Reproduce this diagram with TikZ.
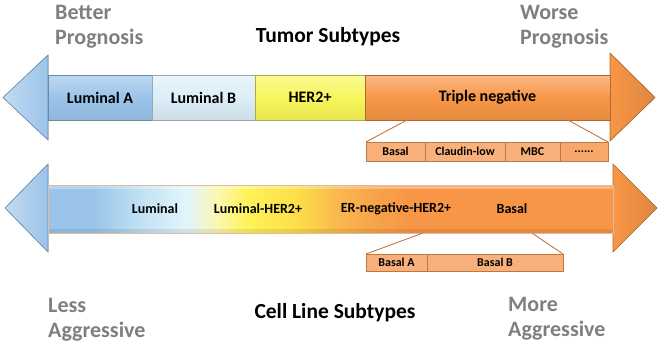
\documentclass[tikz,border=0pt]{standalone}
\usepackage{fontspec}
\setmainfont{Carlito}
\usepackage{xcolor}
\usetikzlibrary{positioning}

\definecolor{lumacol}{HTML}{9AC4EA}
\definecolor{lumbcol}{HTML}{DCEEF8}
\definecolor{hercol}{HTML}{F8F65A}
\definecolor{tnegcol}{HTML}{F79646}
\definecolor{subcol}{HTML}{F9B07A}
\definecolor{edgecol}{HTML}{C07840}
\definecolor{grytxt}{HTML}{7F7F7F}
\definecolor{lightblue}{HTML}{BFE0F3}
\definecolor{palecyan}{HTML}{E2F6FB}
\definecolor{paleyel}{HTML}{FBF7B0}
\definecolor{midyel}{HTML}{FFF35A}
\definecolor{deepyel}{HTML}{FCDE48}
\definecolor{orgyel}{HTML}{FAB94E}
\definecolor{orglt}{HTML}{F8A24A}

\pgfdeclarehorizontalshading{cellgrad}{100bp}{color(0bp)=(lumacol); color(25bp)=(lumacol);
  color(29bp)=(lumacol); color(33bp)=(lightblue); color(37.3bp)=(palecyan);
  color(40bp)=(paleyel); color(42.6bp)=(midyel); color(47bp)=(deepyel);
  color(50.5bp)=(orgyel); color(54bp)=(orglt); color(57bp)=(tnegcol); color(100bp)=(tnegcol)}

\tikzset{
  seg/.style={draw=#1!70!black, line width=0.6pt, minimum height=45pt, inner sep=0pt,
    outer sep=0pt, font=\fontsize{16}{18}\selectfont\bfseries,
    top color=#1!65!white, bottom color=#1!93!black, middle color=#1},
  subbox/.style={draw=edgecol, line width=0.6pt, fill=subcol, minimum height=19pt,
    inner sep=0pt, outer sep=0pt, font=\fontsize{12}{14}\selectfont\bfseries},
  cellbl/.style={font=\fontsize{14}{16}\selectfont\bfseries, inner sep=0pt},
  grylbl/.style={text=grytxt, align=left, anchor=north west, inner sep=0pt,
    font=\fontsize{22}{25}\selectfont\bfseries},
  ttl/.style={anchor=base, inner sep=0pt, font=\fontsize{21.5}{25}\selectfont\bfseries},
  link/.style={draw=edgecol, line width=0.9pt},
}

\begin{document}
\begin{tikzpicture}[x=1pt, y=-1pt]
  \useasboundingbox (0,0) rectangle (659,343);

  % tumor subtypes arrow
  \filldraw[left color=lumacol!60!white, right color=lumacol, draw=lumacol!70!black, line width=0.6pt] (48,55) -- (3,97.5) -- (48,140) -- cycle;
  \filldraw[left color=tnegcol, right color=tnegcol!90!black, draw=tnegcol!70!black, line width=0.6pt] (610,53) -- (655,97.5) -- (610,141) -- cycle;
  \node[seg=lumacol, minimum width=104pt, anchor=west] (luma) at (48,97.5) {Luminal A};
  \node[seg=lumbcol, minimum width=103pt, right=0pt of luma] (lumb) {Luminal B};
  \node[seg=hercol, minimum width=110pt, right=0pt of lumb] (her) {HER2+};
  \node[seg=tnegcol, minimum width=245pt, right=0pt of her] (tneg) {Triple negative};

  \node[subbox, minimum width=59pt, anchor=north west] (basal) at (366,142) {Basal};
  \node[subbox, minimum width=80pt, right=0pt of basal] (claudin) {Claudin-low};
  \node[subbox, minimum width=55pt, right=0pt of claudin] (mbc) {MBC};
  \node[subbox, fill=subcol!70!tnegcol, minimum width=48pt, right=0pt of mbc] (more) {......};
  \coordinate (tnegL) at (407,120);
  \coordinate (tnegR) at (568,120);
  \draw[link] (tnegL) -- (basal.north west);
  \draw[link] (tnegR) -- (more.north east);

  % cell line arrow
  \filldraw[left color=lumacol!60!white, right color=lumacol, draw=lumacol!70!black, line width=0.6pt] (48,164) -- (5,208) -- (48,252) -- cycle;
  \filldraw[left color=tnegcol, right color=tnegcol!90!black, draw=tnegcol!70!black, line width=0.6pt] (613,164) -- (657,208) -- (613,252) -- cycle;
  \shade[shading=cellgrad] (48,185) rectangle (613,233);
  \fill[white, opacity=0.3] (48,185) rectangle (613,189);
  \fill[black, opacity=0.08] (48,229) rectangle (613,233);
  \draw[edgecol!50, line width=0.5pt] (48,185) rectangle (613,233);
  \node[cellbl] (clum) at (155,209) {Luminal};
  \node[cellbl] (clher) at (258,209) {Luminal-HER2+};
  \node[cellbl] (clneg) at (396,209) {ER-negative-HER2+};
  \node[cellbl] (clbas) at (512,209) {Basal};

  \node[subbox, minimum width=61pt, minimum height=17pt, anchor=north west] (basala) at (366,254) {Basal A};
  \node[subbox, minimum width=136pt, minimum height=17pt, right=0pt of basala] (basalb) {Basal B};
  \coordinate (cellL) at (423,233);
  \coordinate (cellR) at (532,233);
  \draw[link] (cellL) -- (basala.north west);
  \draw[link] (cellR) -- (basalb.north east);

  % labels
  \node[grylbl] (better) at (55,5) {Better\\Prognosis};
  \node[grylbl] (worse) at (520,5) {Worse\\Prognosis};
  \node[grylbl] (less) at (48,298) {Less\\Aggressive};
  \node[grylbl] (moreag) at (508,297) {More\\Aggressive};
  \node[ttl] (tumor) at (328,42) {Tumor Subtypes};
  \node[ttl] (cell) at (335,318) {Cell Line Subtypes};
\end{tikzpicture}
\end{document}
